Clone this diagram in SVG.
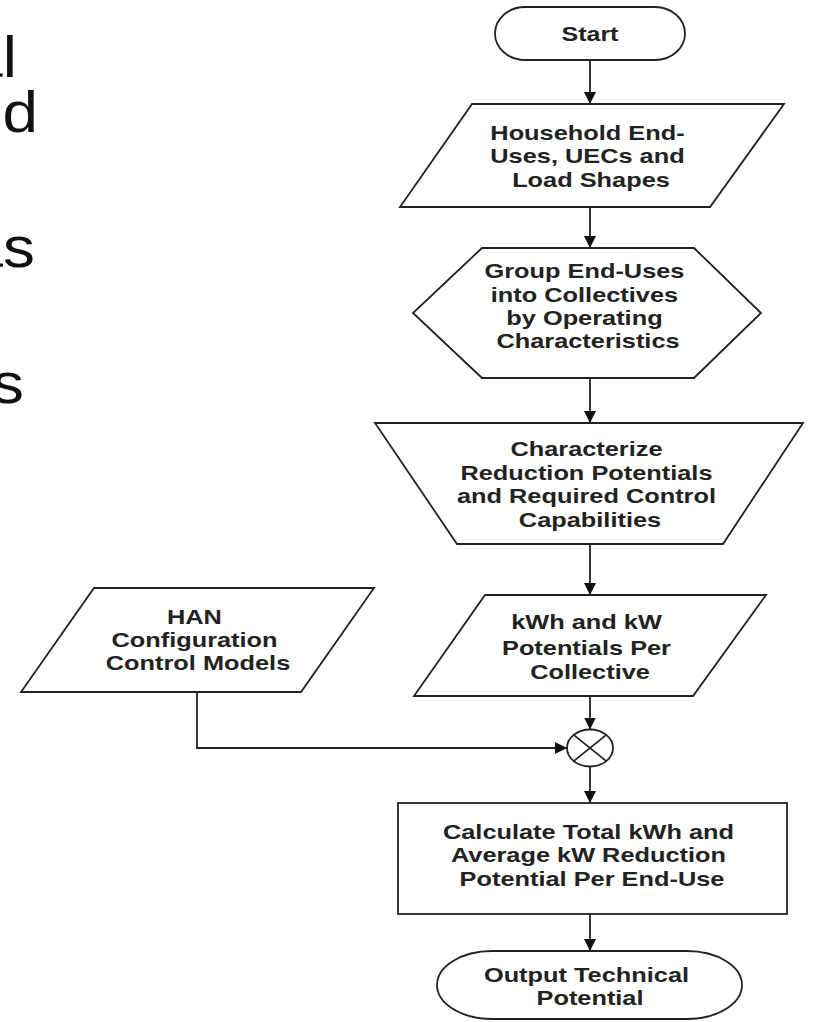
<svg xmlns="http://www.w3.org/2000/svg" width="817" height="1022" viewBox="0 0 817 1022">
  <style>
    .shape { fill: #ffffff; stroke: #222222; stroke-width: 1.8; }
    .link { fill: none; stroke: #222222; stroke-width: 1.8; }
    .lbl { font-family: "Liberation Sans", Arial, sans-serif; font-weight: bold; font-size: 19.5px; fill: #222222; text-anchor: middle; }
    .side { font-family: "Liberation Sans", Arial, sans-serif; font-size: 58px; fill: #111111; text-anchor: end; }
  </style>
  <defs>
    <marker id="arrow" viewBox="0 0 12 12" refX="12" refY="6" markerWidth="12" markerHeight="12" markerUnits="userSpaceOnUse" orient="auto">
      <path d="M0,0 L12,6 L0,12 Z" fill="#111111"/>
    </marker>
  </defs>
  <rect width="817" height="1022" fill="#ffffff"/>

  <!-- slide text running off the left edge -->
  <g id="side-text">
    <text class="side" transform="translate(17,0) scale(1.1 1)" x="0" y="77">al</text>
    <text class="side" transform="translate(38,0) scale(1.1 1)" x="0" y="132">ld</text>
    <text class="side" transform="translate(35,0) scale(1.1 1)" x="0" y="267">as</text>
    <text class="side" transform="translate(24,0) scale(1.1 1)" x="0" y="403">s</text>
  </g>

  <!-- connectors -->
  <g id="connectors">
    <line class="link" x1="590" y1="60" x2="590" y2="104" marker-end="url(#arrow)"/>
    <line class="link" x1="590" y1="207" x2="590" y2="248" marker-end="url(#arrow)"/>
    <line class="link" x1="590" y1="378" x2="590" y2="423" marker-end="url(#arrow)"/>
    <line class="link" x1="590" y1="544" x2="590" y2="595" marker-end="url(#arrow)"/>
    <line class="link" x1="590" y1="696" x2="590" y2="729.5" marker-end="url(#arrow)"/>
    <polyline class="link" points="197,692 197,748 567,748" marker-end="url(#arrow)"/>
    <line class="link" x1="590" y1="766.5" x2="590" y2="803" marker-end="url(#arrow)"/>
    <line class="link" x1="590" y1="914" x2="590" y2="951" marker-end="url(#arrow)"/>
  </g>

  <g id="start">
    <rect class="shape" x="495" y="7" width="190" height="53" rx="30" ry="26.5"/>
    <text class="lbl" transform="translate(590,0) scale(1.28 1)"><tspan x="0" y="41">Start</tspan></text>
  </g>

  <g id="household-end-uses">
    <polygon class="shape" points="472,104 784,104 710,207 400,207"/>
    <text class="lbl" transform="translate(591,0) scale(1.3 1)">
      <tspan x="0" y="140">Household End-</tspan>
      <tspan x="0" y="163">Uses, UECs and</tspan>
      <tspan x="0" y="187">Load Shapes</tspan>
    </text>
  </g>

  <g id="group-end-uses">
    <polygon class="shape" points="482,248 694,248 761,313 694,378 482,378 413,313"/>
    <text class="lbl" transform="translate(588,0) scale(1.3 1)">
      <tspan x="0" y="278">Group End-Uses</tspan>
      <tspan x="0" y="302">into Collectives</tspan>
      <tspan x="0" y="325">by Operating</tspan>
      <tspan x="0" y="348">Characteristics</tspan>
    </text>
  </g>

  <g id="characterize">
    <polygon class="shape" points="375,423 803,423 723,544 457,544"/>
    <text class="lbl" transform="translate(590,0) scale(1.3 1)">
      <tspan x="0" y="456">Characterize</tspan>
      <tspan x="0" y="480">Reduction Potentials</tspan>
      <tspan x="0" y="503">and Required Control</tspan>
      <tspan x="0" y="527">Capabilities</tspan>
    </text>
  </g>

  <g id="kwh-potentials">
    <polygon class="shape" points="485,595 766,595 693,696 414,696"/>
    <text class="lbl" transform="translate(590,0) scale(1.3 1)">
      <tspan x="0" y="629">kWh and kW</tspan>
      <tspan x="0" y="655">Potentials Per</tspan>
      <tspan x="0" y="679">Collective</tspan>
    </text>
  </g>

  <g id="han-configuration">
    <polygon class="shape" points="94,588 374,588 301,692 21,692"/>
    <text class="lbl" transform="translate(198,0) scale(1.3 1)">
      <tspan x="0" y="624">HAN</tspan>
      <tspan x="0" y="647">Configuration</tspan>
      <tspan x="0" y="670">Control Models</tspan>
    </text>
  </g>

  <g id="combine">
    <ellipse class="shape" cx="590" cy="748" rx="23" ry="18.5"/>
    <line class="link" x1="573.7" y1="734.9" x2="606.3" y2="761.1"/>
    <line class="link" x1="573.7" y1="761.1" x2="606.3" y2="734.9"/>
  </g>

  <g id="calculate-total">
    <rect class="shape" x="398" y="803" width="389" height="111"/>
    <text class="lbl" transform="translate(592,0) scale(1.3 1)">
      <tspan x="0" y="839">Calculate Total kWh and</tspan>
      <tspan x="0" y="862">Average kW Reduction</tspan>
      <tspan x="0" y="886">Potential Per End-Use</tspan>
    </text>
  </g>

  <g id="output-technical-potential">
    <rect class="shape" x="437" y="951" width="305" height="68" rx="55" ry="34"/>
    <text class="lbl" transform="translate(590,0) scale(1.3 1)">
      <tspan x="0" y="982">Output Technical</tspan>
      <tspan x="0" y="1005">Potential</tspan>
    </text>
  </g>
</svg>
